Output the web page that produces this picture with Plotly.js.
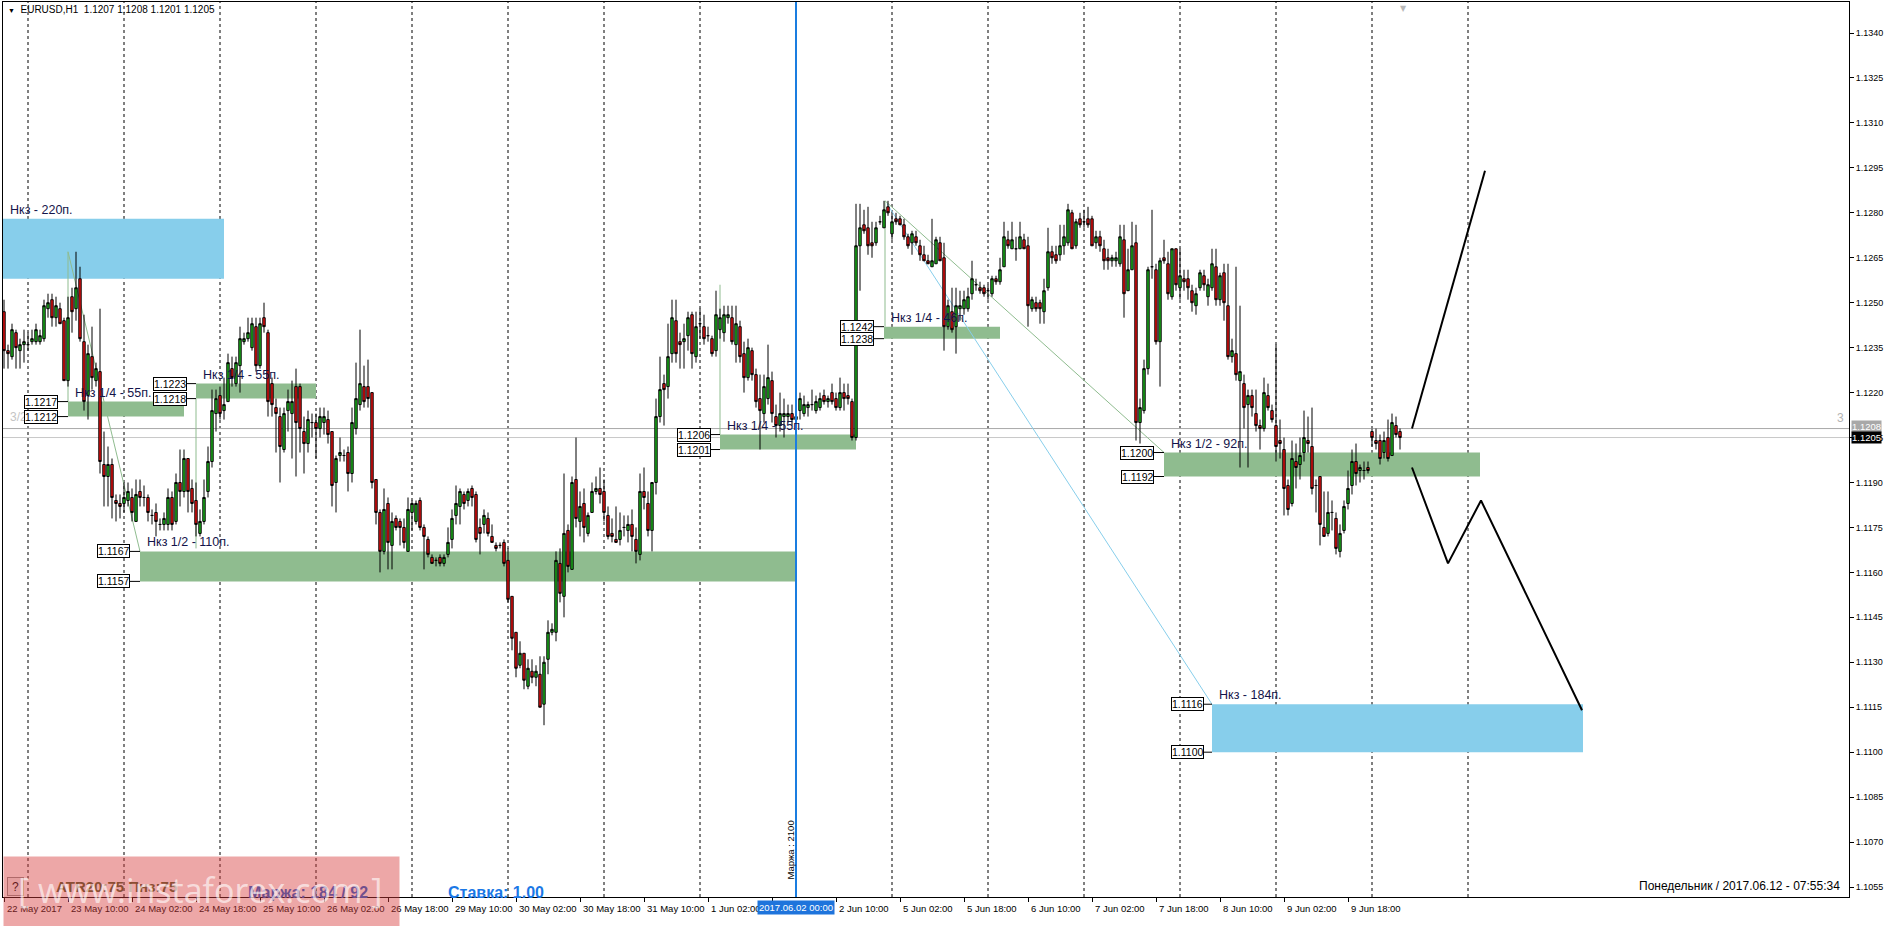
<!DOCTYPE html>
<html><head><meta charset="utf-8">
<script src="https://cdn.plot.ly/plotly-3.0.1.min.js"></script>
<style>html,body{margin:0;padding:0;background:#fff;overflow:hidden}#chart{width:1891px;height:926px}</style>
</head><body><div id="chart"></div>
<script>
// EURUSD H1, bar 0 = 22 May 2017 18:00, one bar per trading hour
const opens = [
1.1247,1.1234,1.1232,1.1240,1.1234,1.1236,1.1236,1.1237,1.1237,1.1237,
1.1238,1.1248,1.1251,1.1245,1.1248,1.1244,1.1224,1.1252,1.1248,1.1258,
1.1237,1.1219,1.1232,1.1224,1.1227,1.1196,1.1192,1.1196,1.1184,1.1183,
1.1183,1.1184,1.1185,1.1177,1.1187,1.1185,1.1185,1.1179,1.1180,1.1176,
1.1176,1.1176,1.1185,1.1177,1.1190,1.1187,1.1198,1.1188,1.1184,1.1173,
1.1177,1.1187,1.1197,1.1213,1.1219,1.1214,1.1217,1.1228,1.1223,1.1229,
1.1237,1.1238,1.1235,1.1242,1.1229,1.1245,1.1240,1.1223,1.1215,1.1212,
1.1201,1.1214,1.1213,1.1222,1.1222,1.1207,1.1203,1.1210,1.1210,1.1208,
1.1210,1.1211,1.1207,1.1190,1.1199,1.1199,1.1200,1.1193,1.1208,1.1216,
1.1222,1.1222,1.1220,1.1191,1.1180,1.1167,1.1183,1.1169,1.1178,1.1177,
1.1175,1.1167,1.1180,1.1177,1.1184,1.1175,1.1171,1.1165,1.1164,1.1165,
1.1163,1.1166,1.1171,1.1179,1.1182,1.1186,1.1184,1.1188,1.1186,1.1175,
1.1176,1.1178,1.1172,1.1169,1.1169,1.1170,1.1164,1.1152,1.1140,1.1129,
1.1133,1.1122,1.1127,1.1125,1.1126,1.1116,1.1131,1.1140,1.1140,1.1163,
1.1152,1.1174,1.1161,1.1191,1.1177,1.1183,1.1173,1.1180,1.1187,1.1188,
1.1187,1.1179,1.1173,1.1171,1.1171,1.1175,1.1174,1.1176,1.1171,1.1166,
1.1187,1.1183,1.1174,1.1190,1.1212,1.1223,1.1222,1.1233,1.1244,1.1237,
1.1237,1.1239,1.1246,1.1232,1.1243,1.1242,1.1239,1.1238,1.1234,1.1241,
1.1240,1.1245,1.1245,1.1236,1.1242,1.1233,1.1225,1.1234,1.1226,1.1218,
1.1213,1.1218,1.1224,1.1212,1.1209,1.1212,1.1212,1.1213,1.1211,1.1214,
1.1213,1.1215,1.1216,1.1214,1.1215,1.1219,1.1217,1.1220,1.1218,1.1215,
1.1220,1.1219,1.1217,1.1205,1.1269,1.1276,1.1275,1.1270,1.1270,1.1277,
1.1275,1.1282,1.1273,1.1278,1.1278,1.1276,1.1272,1.1270,1.1272,1.1269,
1.1266,1.1264,1.1262,1.1263,1.1270,1.1265,1.1242,1.1247,1.1242,1.1248,
1.1248,1.1248,1.1253,1.1256,1.1255,1.1255,1.1254,1.1253,1.1258,1.1257,
1.1262,1.1271,1.1268,1.1268,1.1268,1.1271,1.1269,1.1248,1.1250,1.1250,
1.1247,1.1255,1.1267,1.1266,1.1266,1.1269,1.1270,1.1280,1.1269,1.1278,
1.1277,1.1278,1.1278,1.1270,1.1272,1.1268,1.1265,1.1264,1.1264,1.1263,
1.1271,1.1254,1.1261,1.1270,1.1210,1.1214,1.1228,1.1262,1.1261,1.1237,
1.1265,1.1263,1.1252,1.1268,1.1255,1.1258,1.1258,1.1254,1.1249,1.1255,
1.1259,1.1252,1.1255,1.1262,1.1251,1.1260,1.1249,1.1232,1.1233,1.1224,
1.1223,1.1216,1.1219,1.1213,1.1209,1.1208,1.1219,1.1214,1.1209,1.1204,
1.1201,1.1189,1.1183,1.1197,1.1196,1.1200,1.1204,1.1202,1.1189,1.1192,
1.1175,1.1173,1.1180,1.1178,1.1167,1.1174,1.1183,1.1189,1.1197,1.1194,
1.1194,1.1195,1.1207,1.1204,1.1204,1.1200,1.1205,1.1199,1.1209,1.1207];
const highs = [
1.1251,1.1236,1.1243,1.1241,1.1238,1.1241,1.1240,1.1241,1.1243,1.1241,
1.1251,1.1253,1.1253,1.1252,1.1250,1.1245,1.1252,1.1255,1.1267,1.1262,
1.1246,1.1236,1.1242,1.1230,1.1248,1.1207,1.1202,1.1198,1.1186,1.1186,
1.1190,1.1190,1.1188,1.1191,1.1191,1.1189,1.1186,1.1181,1.1183,1.1178,
1.1180,1.1188,1.1187,1.1193,1.1201,1.1201,1.1198,1.1191,1.1190,1.1181,
1.1191,1.1202,1.1221,1.1221,1.1222,1.1225,1.1233,1.1232,1.1232,1.1242,
1.1240,1.1245,1.1245,1.1245,1.1245,1.1250,1.1241,1.1225,1.1218,1.1215,
1.1215,1.1221,1.1224,1.1228,1.1223,1.1212,1.1214,1.1213,1.1213,1.1215,
1.1215,1.1214,1.1207,1.1199,1.1205,1.1201,1.1202,1.1215,1.1230,1.1241,
1.1229,1.1231,1.1220,1.1191,1.1181,1.1188,1.1185,1.1180,1.1179,1.1178,
1.1178,1.1185,1.1184,1.1184,1.1185,1.1176,1.1172,1.1166,1.1165,1.1166,
1.1166,1.1175,1.1181,1.1189,1.1188,1.1187,1.1188,1.1189,1.1187,1.1178,
1.1181,1.1180,1.1176,1.1170,1.1170,1.1171,1.1168,1.1152,1.1140,1.1137,
1.1133,1.1131,1.1131,1.1129,1.1132,1.1132,1.1144,1.1143,1.1167,1.1168,
1.1193,1.1176,1.1192,1.1205,1.1187,1.1188,1.1180,1.1190,1.1192,1.1195,
1.1191,1.1182,1.1178,1.1182,1.1180,1.1179,1.1179,1.1181,1.1175,1.1193,
1.1195,1.1187,1.1190,1.1218,1.1232,1.1226,1.1243,1.1251,1.1251,1.1240,
1.1243,1.1247,1.1247,1.1247,1.1248,1.1246,1.1242,1.1239,1.1254,1.1248,
1.1249,1.1249,1.1249,1.1249,1.1244,1.1237,1.1238,1.1235,1.1228,1.1226,
1.1226,1.1236,1.1227,1.1216,1.1220,1.1218,1.1216,1.1216,1.1214,1.1220,
1.1219,1.1217,1.1221,1.1219,1.1220,1.1221,1.1219,1.1223,1.1220,1.1225,
1.1223,1.1223,1.1218,1.1283,1.1283,1.1281,1.1282,1.1277,1.1277,1.1279,
1.1284,1.1284,1.1280,1.1280,1.1279,1.1278,1.1273,1.1274,1.1274,1.1271,
1.1269,1.1266,1.1278,1.1272,1.1272,1.1270,1.1251,1.1255,1.1255,1.1254,
1.1254,1.1255,1.1264,1.1258,1.1257,1.1256,1.1256,1.1259,1.1259,1.1265,
1.1277,1.1274,1.1277,1.1272,1.1277,1.1273,1.1272,1.1252,1.1252,1.1251,
1.1258,1.1275,1.1269,1.1269,1.1276,1.1276,1.1283,1.1281,1.1278,1.1280,
1.1281,1.1282,1.1279,1.1274,1.1274,1.1271,1.1268,1.1266,1.1267,1.1276,
1.1276,1.1268,1.1277,1.1276,1.1218,1.1231,1.1262,1.1281,1.1263,1.1265,
1.1271,1.1267,1.1268,1.1268,1.1268,1.1261,1.1261,1.1256,1.1255,1.1261,
1.1261,1.1258,1.1268,1.1268,1.1260,1.1263,1.1263,1.1238,1.1262,1.1249,
1.1226,1.1221,1.1221,1.1221,1.1211,1.1225,1.1223,1.1216,1.1236,1.1211,
1.1205,1.1191,1.1204,1.1203,1.1205,1.1214,1.1212,1.1215,1.1191,1.1192,
1.1187,1.1187,1.1184,1.1180,1.1176,1.1184,1.1194,1.1201,1.1203,1.1196,
1.1197,1.1197,1.1208,1.1208,1.1206,1.1207,1.1211,1.1213,1.1212,1.1208];
const lows = [
1.1228,1.1228,1.1231,1.1228,1.1228,1.1230,1.1234,1.1236,1.1236,1.1236,
1.1237,1.1245,1.1242,1.1242,1.1243,1.1224,1.1222,1.1240,1.1244,1.1237,
1.1214,1.1211,1.1221,1.1222,1.1193,1.1182,1.1182,1.1178,1.1177,1.1178,
1.1180,1.1182,1.1177,1.1177,1.1182,1.1182,1.1177,1.1176,1.1172,1.1174,
1.1174,1.1174,1.1174,1.1176,1.1182,1.1185,1.1180,1.1180,1.1172,1.1172,
1.1176,1.1185,1.1195,1.1207,1.1211,1.1211,1.1217,1.1222,1.1222,1.1220,
1.1236,1.1237,1.1234,1.1227,1.1228,1.1240,1.1212,1.1212,1.1200,1.1190,
1.1200,1.1207,1.1198,1.1192,1.1200,1.1193,1.1200,1.1205,1.1198,1.1205,
1.1206,1.1203,1.1182,1.1180,1.1197,1.1197,1.1187,1.1190,1.1206,1.1214,
1.1215,1.1215,1.1188,1.1176,1.1160,1.1166,1.1161,1.1161,1.1174,1.1169,
1.1168,1.1167,1.1174,1.1176,1.1174,1.1161,1.1165,1.1163,1.1162,1.1162,
1.1162,1.1165,1.1168,1.1176,1.1176,1.1181,1.1182,1.1182,1.1170,1.1166,
1.1173,1.1172,1.1170,1.1167,1.1168,1.1162,1.1150,1.1134,1.1125,1.1128,
1.1121,1.1121,1.1123,1.1122,1.1115,1.1109,1.1126,1.1139,1.1137,1.1150,
1.1145,1.1160,1.1161,1.1175,1.1172,1.1170,1.1172,1.1180,1.1186,1.1183,
1.1177,1.1171,1.1170,1.1170,1.1169,1.1172,1.1170,1.1167,1.1163,1.1164,
1.1181,1.1172,1.1167,1.1186,1.1210,1.1209,1.1218,1.1230,1.1230,1.1228,
1.1228,1.1234,1.1228,1.1230,1.1238,1.1236,1.1237,1.1232,1.1232,1.1238,
1.1237,1.1243,1.1236,1.1230,1.1230,1.1220,1.1224,1.1224,1.1215,1.1201,
1.1210,1.1216,1.1210,1.1205,1.1207,1.1205,1.1210,1.1209,1.1209,1.1211,
1.1212,1.1212,1.1214,1.1213,1.1214,1.1216,1.1215,1.1216,1.1214,1.1214,
1.1214,1.1216,1.1204,1.1204,1.1254,1.1273,1.1266,1.1265,1.1269,1.1276,
1.1275,1.1279,1.1271,1.1276,1.1276,1.1271,1.1268,1.1266,1.1269,1.1264,
1.1264,1.1263,1.1262,1.1263,1.1264,1.1234,1.1241,1.1240,1.1233,1.1244,
1.1246,1.1247,1.1251,1.1254,1.1253,1.1252,1.1251,1.1252,1.1256,1.1256,
1.1262,1.1268,1.1268,1.1264,1.1268,1.1268,1.1242,1.1247,1.1247,1.1243,
1.1243,1.1254,1.1263,1.1263,1.1264,1.1266,1.1269,1.1268,1.1268,1.1275,
1.1275,1.1275,1.1269,1.1268,1.1267,1.1261,1.1261,1.1262,1.1262,1.1262,
1.1245,1.1254,1.1261,1.1204,1.1203,1.1213,1.1226,1.1258,1.1236,1.1222,
1.1263,1.1251,1.1251,1.1254,1.1251,1.1254,1.1251,1.1247,1.1246,1.1254,
1.1254,1.1249,1.1254,1.1249,1.1249,1.1244,1.1231,1.1230,1.1224,1.1195,
1.1208,1.1195,1.1212,1.1207,1.1201,1.1207,1.1214,1.1210,1.1197,1.1198,
1.1179,1.1179,1.1182,1.1188,1.1191,1.1197,1.1200,1.1186,1.1180,1.1169,
1.1172,1.1172,1.1174,1.1166,1.1165,1.1173,1.1181,1.1186,1.1189,1.1190,
1.1191,1.1193,1.1202,1.1201,1.1196,1.1198,1.1197,1.1199,1.1205,1.1201];
const closes = [
1.1234,1.1233,1.1241,1.1235,1.1236,1.1237,1.1236,1.1238,1.1241,1.1239,
1.1249,1.1250,1.1245,1.1249,1.1243,1.1224,1.1245,1.1247,1.1255,1.1238,
1.1217,1.1233,1.1225,1.1228,1.1197,1.1192,1.1196,1.1185,1.1183,1.1182,
1.1185,1.1187,1.1180,1.1186,1.1185,1.1185,1.1180,1.1179,1.1177,1.1176,
1.1178,1.1185,1.1176,1.1190,1.1187,1.1198,1.1187,1.1183,1.1176,1.1177,
1.1185,1.1197,1.1214,1.1218,1.1213,1.1216,1.1230,1.1225,1.1230,1.1238,
1.1238,1.1240,1.1243,1.1229,1.1243,1.1242,1.1217,1.1216,1.1213,1.1202,
1.1213,1.1217,1.1217,1.1210,1.1208,1.1203,1.1211,1.1210,1.1208,1.1212,
1.1212,1.1206,1.1189,1.1198,1.1200,1.1199,1.1193,1.1210,1.1218,1.1223,
1.1217,1.1218,1.1190,1.1180,1.1167,1.1181,1.1170,1.1177,1.1175,1.1175,
1.1170,1.1181,1.1183,1.1183,1.1175,1.1172,1.1166,1.1163,1.1164,1.1163,
1.1165,1.1170,1.1178,1.1183,1.1187,1.1183,1.1187,1.1185,1.1171,1.1173,
1.1179,1.1173,1.1170,1.1168,1.1169,1.1163,1.1151,1.1138,1.1128,1.1133,
1.1124,1.1128,1.1125,1.1127,1.1115,1.1130,1.1140,1.1141,1.1164,1.1153,
1.1173,1.1162,1.1190,1.1178,1.1182,1.1175,1.1179,1.1187,1.1188,1.1186,
1.1180,1.1172,1.1172,1.1170,1.1174,1.1175,1.1176,1.1172,1.1167,1.1187,
1.1185,1.1174,1.1190,1.1212,1.1221,1.1221,1.1232,1.1245,1.1233,1.1236,
1.1238,1.1245,1.1233,1.1242,1.1243,1.1238,1.1239,1.1233,1.1246,1.1245,
1.1246,1.1246,1.1237,1.1243,1.1232,1.1225,1.1235,1.1226,1.1217,1.1214,
1.1222,1.1225,1.1213,1.1209,1.1213,1.1213,1.1213,1.1211,1.1212,1.1218,
1.1216,1.1216,1.1216,1.1217,1.1218,1.1217,1.1218,1.1217,1.1215,1.1220,
1.1218,1.1218,1.1205,1.1269,1.1275,1.1274,1.1269,1.1269,1.1275,1.1277,
1.1281,1.1280,1.1277,1.1277,1.1276,1.1272,1.1269,1.1273,1.1270,1.1266,
1.1264,1.1263,1.1264,1.1271,1.1264,1.1242,1.1249,1.1241,1.1249,1.1249,
1.1251,1.1252,1.1258,1.1256,1.1254,1.1253,1.1254,1.1258,1.1257,1.1261,
1.1272,1.1269,1.1271,1.1268,1.1272,1.1268,1.1249,1.1251,1.1248,1.1248,
1.1254,1.1267,1.1265,1.1264,1.1269,1.1272,1.1281,1.1268,1.1277,1.1276,
1.1277,1.1276,1.1269,1.1272,1.1269,1.1264,1.1264,1.1265,1.1265,1.1272,
1.1253,1.1261,1.1269,1.1210,1.1215,1.1228,1.1261,1.1262,1.1237,1.1264,
1.1264,1.1253,1.1268,1.1256,1.1259,1.1257,1.1255,1.1250,1.1253,1.1260,
1.1256,1.1256,1.1263,1.1251,1.1259,1.1250,1.1232,1.1234,1.1226,1.1227,
1.1215,1.1219,1.1215,1.1209,1.1208,1.1220,1.1215,1.1211,1.1202,1.1203,
1.1188,1.1181,1.1198,1.1195,1.1199,1.1205,1.1203,1.1188,1.1189,1.1176,
1.1172,1.1180,1.1180,1.1168,1.1173,1.1182,1.1188,1.1197,1.1193,1.1195,
1.1194,1.1194,1.1205,1.1203,1.1198,1.1204,1.1198,1.1210,1.1206,1.1205];

// time axis labels (bar index -> text)
const timeLabelIdx = [0,16,32,48,64,80,96,112,128,144,160,176,192,208,224,240,256,272,288,304,320,336];
const timeLabels = ['22 May 2017','23 May 10:00','24 May 02:00','24 May 18:00','25 May 10:00','26 May 02:00',
 '26 May 18:00','29 May 10:00','30 May 02:00','30 May 18:00','31 May 10:00','1 Jun 02:00','1 Jun 18:00',
 '2 Jun 10:00','5 Jun 02:00','5 Jun 18:00','6 Jun 10:00','7 Jun 02:00','7 Jun 18:00','8 Jun 10:00',
 '9 Jun 02:00','9 Jun 18:00'];
const daySeparatorIdx = [6,30,54,78,102,126,150,174,222,246,270,294,318,342,366];
const cursorIdx = 198;
const cursorLabel = '2017.06.02 00:00';

// price axis labels
const priceTicks = ['1.1340','1.1325','1.1310','1.1295','1.1280','1.1265','1.1250','1.1235','1.1220',
 '1.1205','1.1190','1.1175','1.1160','1.1145','1.1130','1.1115','1.1100','1.1085','1.1070','1.1055'];

// zones drawn on the chart
const zoneStart = [-0.25, 16, 48, 34, 179, 220, 290, 302];
const zoneEnd   = [55, 45, 78, 197.75, 213, 249, 369, 394.75];
const zoneTop   = [1.1278, 1.1217, 1.1223, 1.1167, 1.1206, 1.1242, 1.1200, 1.1116];
const zoneBottom= [1.1258, 1.1212, 1.1218, 1.1157, 1.1201, 1.1238, 1.1192, 1.1100];
const zoneText  = ['Нкз - 220п.','Нкз 1/4 - 55п.','Нкз 1/4 - 55п.','Нкз 1/2 - 110п.','Нкз 1/4 - 55п.','Нкз 1/4 - 46п.','Нкз 1/2 - 92п.','Нкз - 184п.'];
const zoneKind  = ['full','part','part','part','part','part','part','full'];
const zoneTagEnd= [null, 13.5, 45.75, 31.5, 176.75, 217.5, 287.5, 300];

// thin construction lines [x0, price0, x1, price1]
const greenLines = [[16,1.1267,16,1.1217],[16,1.1267,34,1.1167],[48,1.1218,48,1.1168],
  [179,1.1256,179,1.1206],[220.25,1.1284,220.25,1.1242],[220.25,1.1284,290,1.1200]];
const blueLines = [[220.75,1.1283,302,1.1116]];

// forecast path
const forecastUpX = [352, 370.25];
const forecastUpY = [1.1208, 1.1294];
const forecastDownX = [352, 361, 369.25, 394.5];
const forecastDownY = [1.1195, 1.1163, 1.1184, 1.1114];

const bidPrice = 1.1205, askPrice = 1.1208;

// ---------- build ----------
const W = 1891, H = 926, ML = 3, MR = 42, MT = 2, MB = 29;
const PW = W - ML - MR, PH = H - MT - MB;
const px = x => (x - ML) / PW;
const py = y => (H - MB - y) / PH;
const FONT = 'Liberation Sans, Arial, sans-serif';

const idx = opens.map((_, i) => i);
const traces = [
 {type:'candlestick', x:idx, open:opens, high:highs, low:lows, close:closes,
  increasing:{line:{color:'#000', width:1}, fillcolor:'#1dbd1d'},
  decreasing:{line:{color:'#000', width:1}, fillcolor:'#f21010'},
  whiskerwidth:0, hoverinfo:'skip', showlegend:false},
 {type:'scatter', mode:'lines', x:forecastUpX, y:forecastUpY, line:{color:'#000', width:2}, hoverinfo:'skip', showlegend:false},
 {type:'scatter', mode:'lines', x:forecastDownX, y:forecastDownY, line:{color:'#000', width:2}, hoverinfo:'skip', showlegend:false}
];

const shapes = [];
zoneStart.forEach((x0, k) => {
  shapes.push({type:'rect', layer:'below', xref:'x', yref:'y', x0:x0, x1:zoneEnd[k], y0:zoneBottom[k], y1:zoneTop[k],
    fillcolor: zoneKind[k]==='full' ? '#87ceeb' : '#8fbc8f', line:{width:0}});
});
greenLines.forEach(s => shapes.push({type:'line', layer:'below', xref:'x', yref:'y', x0:s[0], y0:s[1], x1:s[2], y1:s[3], line:{color:'#8fbc8f', width:1}}));
blueLines.forEach(s => shapes.push({type:'line', layer:'below', xref:'x', yref:'y', x0:s[0], y0:s[1], x1:s[2], y1:s[3], line:{color:'#87ceeb', width:1}}));
daySeparatorIdx.forEach(d => shapes.push({type:'line', layer:'below', xref:'x', yref:'paper', x0:d, x1:d, y0:0, y1:1, line:{color:'#000', width:1, dash:'3px,3px'}}));
shapes.push({type:'line', layer:'below', xref:'paper', yref:'y', x0:0, x1:1, y0:askPrice, y1:askPrice, line:{color:'#a8a8a8', width:1}});
shapes.push({type:'line', layer:'below', xref:'paper', yref:'y', x0:0, x1:1, y0:bidPrice, y1:bidPrice, line:{color:'#c8c8c8', width:1}});
shapes.push({type:'line', layer:'above', xref:'x', yref:'paper', x0:cursorIdx, x1:cursorIdx, y0:0, y1:1, line:{color:'#1a7de0', width:2}});
zoneStart.forEach((x0, k) => {
  if (zoneTagEnd[k] === null) return;
  [zoneTop[k], zoneBottom[k]].forEach(p => shapes.push({type:'line', layer:'above', xref:'x', yref:'y', x0:zoneTagEnd[k], x1:x0, y0:p, y1:p, line:{color:'#000', width:1}}));
});

const ann = [];
// faint level markers
ann.push({xref:'paper', yref:'y', x:px(8), y:1.1212, xanchor:'left', yanchor:'middle', text:'3/2', showarrow:false, font:{family:FONT, size:12, color:'#c4c4c4'}});
ann.push({xref:'paper', yref:'y', x:px(1840), y:1.12115, xanchor:'center', yanchor:'middle', text:'3', showarrow:false, font:{family:FONT, size:12, color:'#b4b4b4'}});
// zone captions and price tags
zoneStart.forEach((x0, k) => {
  ann.push({xref:'x', yref:'y', x:x0 + 1.25, y:zoneTop[k], xanchor:'left', yanchor:'bottom', yshift:0, text:zoneText[k], showarrow:false,
    font:{family:FONT, size:12.5, color:'#14144a'}});
  if (zoneTagEnd[k] === null) return;
  [zoneTop[k], zoneBottom[k]].forEach(p => ann.push({xref:'x', yref:'y', x:zoneTagEnd[k], y:p, xanchor:'right', yanchor:'middle',
    text:p.toFixed(4), showarrow:false, bgcolor:'#fff', bordercolor:'#000', borderwidth:1, borderpad:0,
    font:{family:FONT, size:10.5, color:'#000'}}));
});
// header
ann.push({xref:'paper', yref:'paper', x:px(6), y:py(10), xanchor:'left', yanchor:'middle', showarrow:false,
  text:'<span style="font-size:7px">▼</span>\u00a0\u00a0EURUSD,H1\u00a0\u00a01.1207 1.1208 1.1201 1.1205', font:{family:FONT, size:10, color:'#000'}});
ann.push({xref:'x', yref:'paper', x:349.75, y:1, xanchor:'center', yanchor:'top', showarrow:false, text:'▼', font:{family:'DejaVu Sans', size:8, color:'#b8b8b8'}});
// time labels
timeLabelIdx.forEach((t, k) => ann.push({xref:'x', yref:'paper', x:t, y:0, xanchor:'left', yanchor:'top', xshift:1, yshift:-4,
  text:timeLabels[k], showarrow:false, font:{family:FONT, size:9.5, color:'#000'}}));
ann.push({xref:'x', yref:'paper', x:cursorIdx, y:0, xanchor:'center', yanchor:'top', yshift:-3, text:cursorLabel, showarrow:false,
  bgcolor:'#1e74dc', borderpad:1, font:{family:FONT, size:9.5, color:'#fff'}});
ann.push({xref:'x', yref:'paper', x:cursorIdx - 1.6, y:py(850), xanchor:'center', yanchor:'middle', textangle:-90, text:'Маржа : 2100', showarrow:false,
  font:{family:FONT, size:9.5, color:'#000'}});
// price tags on the axis
ann.push({xref:'paper', yref:'y', x:1, y:askPrice, xanchor:'left', yanchor:'middle', xshift:2, yshift:2, text:askPrice.toFixed(4), showarrow:false,
  bgcolor:'#a8a8a8', borderpad:0, font:{family:FONT, size:9.5, color:'#fff'}});
ann.push({xref:'paper', yref:'y', x:1, y:bidPrice, xanchor:'left', yanchor:'middle', xshift:2, text:bidPrice.toFixed(4), showarrow:false,
  bgcolor:'#000', borderpad:0, font:{family:FONT, size:9.5, color:'#fff'}});
// bottom info
ann.push({xref:'paper', yref:'paper', x:px(1842), y:py(886), xanchor:'right', yanchor:'middle', showarrow:false,
  text:'Понедельник / 2017.06.12 - 07:55:34', font:{family:FONT, size:12, color:'#000'}});
ann.push({xref:'paper', yref:'paper', x:px(7), y:py(877), xanchor:'left', yanchor:'top', showarrow:false, text:'?', width:15, height:17,
  bgcolor:'#f0f0f0', bordercolor:'#909090', borderwidth:1, borderpad:0, font:{family:FONT, size:12, color:'#000'}});
ann.push({xref:'paper', yref:'paper', x:px(54), y:py(886), xanchor:'left', yanchor:'middle', showarrow:false,
  text:'<b>ATR20:75 Пнз:75</b>', font:{family:FONT, size:15, color:'#4d5d2c'}});
ann.push({xref:'paper', yref:'paper', x:px(246), y:py(892), xanchor:'left', yanchor:'middle', showarrow:false,
  text:'<b>Маржа: 184 / 92</b>', font:{family:FONT, size:16, color:'#1c5fd0'}});
// watermark overlay
ann.push({xref:'paper', yref:'paper', x:0, y:py(856), xanchor:'left', yanchor:'top', showarrow:false, text:' ', width:395, height:70,
  bgcolor:'rgba(215,60,60,0.45)', borderpad:0, font:{size:10}});
ann.push({xref:'paper', yref:'paper', x:px(200), y:py(890), xanchor:'center', yanchor:'middle', showarrow:false,
  text:'[ www.instaforex.com ]', font:{family:'Open Sans, Liberation Sans, sans-serif', size:34, color:'rgba(255,255,255,0.62)'}});
ann.push({xref:'paper', yref:'paper', x:px(446), y:py(892), xanchor:'left', yanchor:'middle', showarrow:false,
  text:'<b>Ставка: 1.00</b>', font:{family:FONT, size:16, color:'#1a78e6'}});

const layout = {
  width:W, height:H, margin:{l:ML, r:MR, t:MT, b:MB, pad:0},
  paper_bgcolor:'#fff', plot_bgcolor:'#fff', showlegend:false, boxgap:0.15,
  font:{family:FONT, size:10, color:'#000'},
  xaxis:{range:[-0.25, 461.25], tickvals:timeLabelIdx, ticks:'outside', ticklen:4, tickcolor:'#000', showticklabels:false,
    showline:true, mirror:true, linecolor:'#000', linewidth:1, showgrid:false, zeroline:false, rangeslider:{visible:false}, fixedrange:true},
  yaxis:{side:'right', range:[1.105167, 1.135035], tickvals:priceTicks.map(Number), ticktext:priceTicks, ticks:'outside', ticklen:4,
    tickcolor:'#000', showline:true, mirror:true, linecolor:'#000', linewidth:1, showgrid:false, zeroline:false,
    tickfont:{family:FONT, size:9, color:'#000'}, fixedrange:true},
  shapes:shapes, annotations:ann
};
Plotly.newPlot('chart', traces, layout, {displayModeBar:false, staticPlot:true});
</script>
</body></html>
